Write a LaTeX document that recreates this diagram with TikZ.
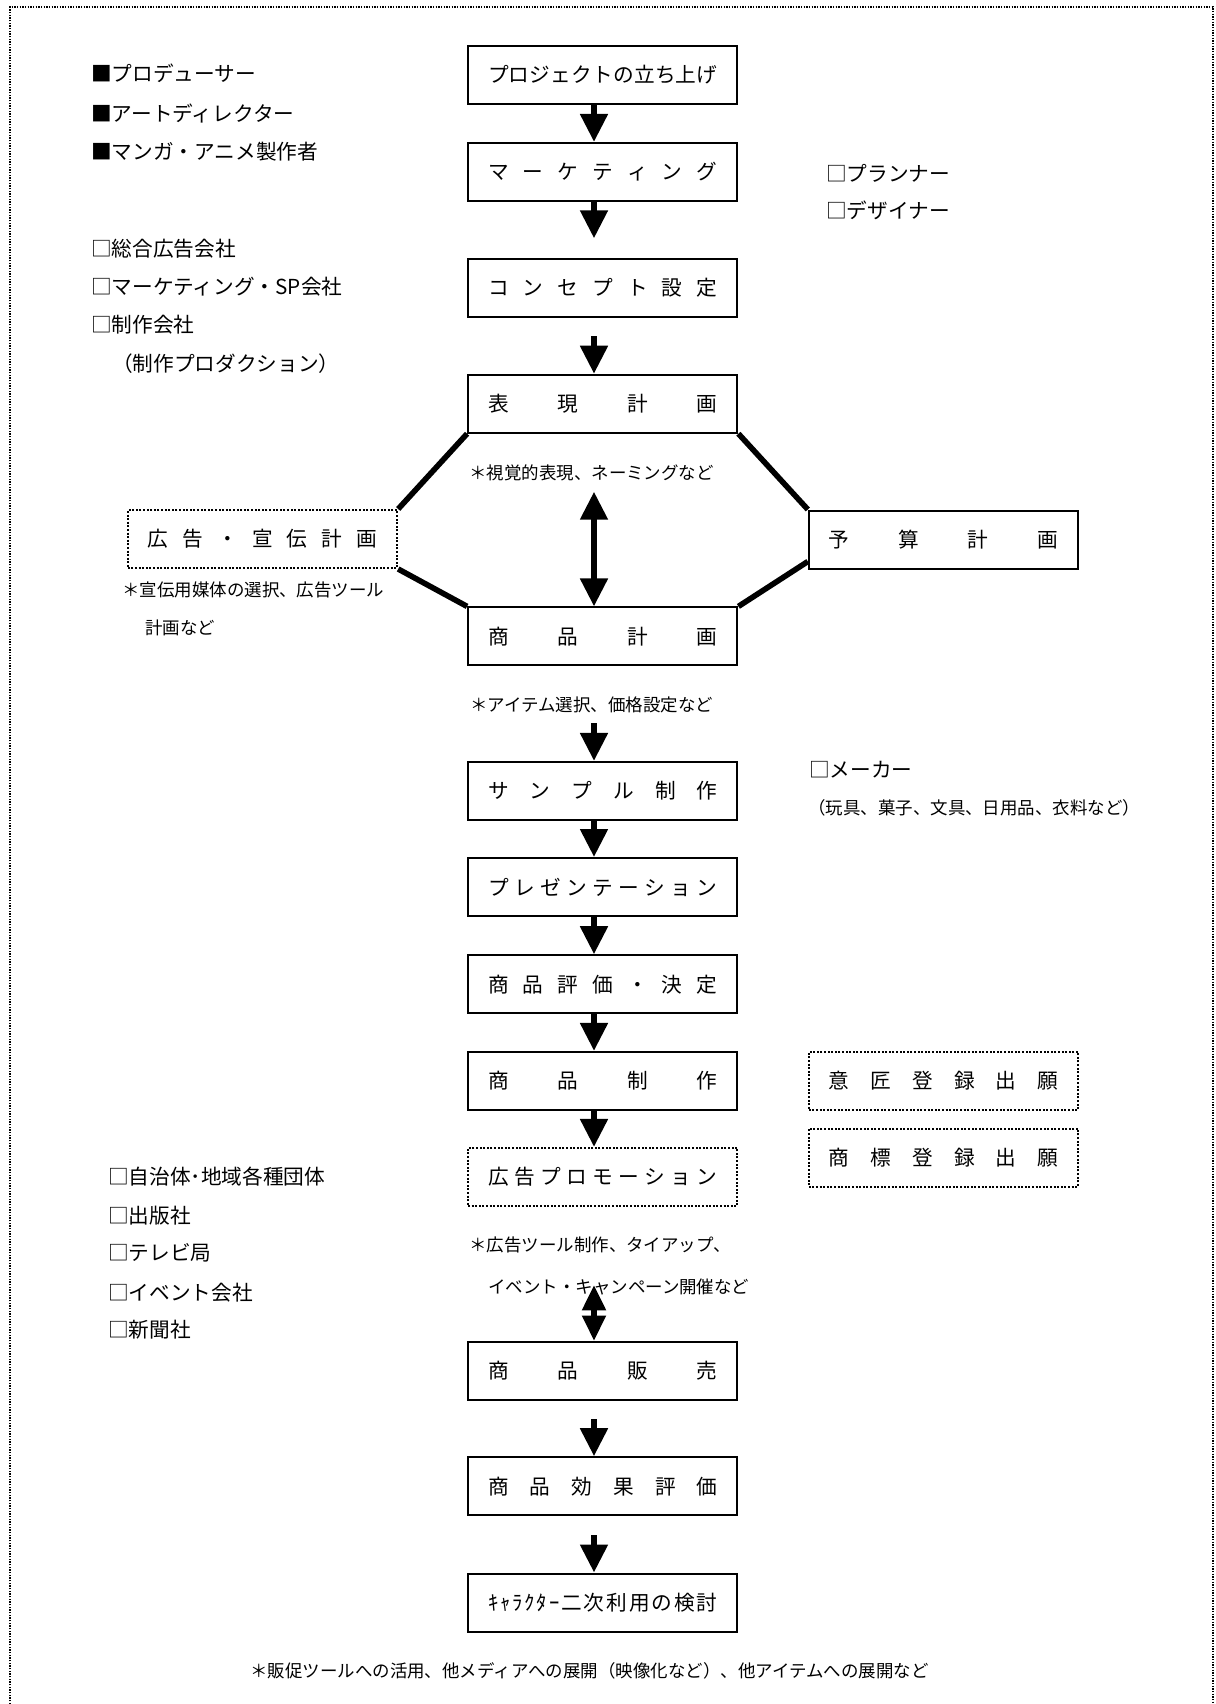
\documentclass[tikz,border=0pt]{standalone}
\usepackage{fontspec}
\setmainfont{Noto Sans CJK JP}
\usetikzlibrary{arrows.meta}

\def\sprdloop#1{\ifx\relax#1\else #1\expandafter\sprdnext\fi}
\def\sprdnext#1{\ifx\relax#1\else\hfill #1\expandafter\sprdnext\fi}
\newcommand\sprd[1]{\makebox[172pt][s]{\sprdloop#1\relax}\hspace{5pt}}
\newcommand\fbx{\fontsize{15.5pt}{18pt}\selectfont}
\newcommand\fnt{\fontsize{13.1pt}{16pt}\selectfont}

\tikzset{
  box/.style={draw, line width=1.5pt, minimum width=202pt, minimum height=43.5pt, inner sep=0pt, font=\fbx},
  dbox/.style={box, dash pattern=on 1.5pt off 1.2pt},
  lbl/.style={anchor=west, inner sep=0pt, font=\fbx},
  note/.style={anchor=west, inner sep=0pt, font=\fnt},
  arr/.style={line width=4.5pt, -{Triangle[width=20pt,length=21pt]}},
  dbl/.style={line width=4.5pt, {Triangle[width=20pt,length=21pt]}-{Triangle[width=20pt,length=21pt]}},
  sdbl/.style={line width=4.5pt, {Triangle[width=17pt,length=19pt]}-{Triangle[width=17pt,length=19pt]}},
  hex/.style={line width=4.2pt},
  border/.style={line width=1pt, dash pattern=on 1pt off 1pt}
}

\begin{document}
\begin{tikzpicture}[x=0.75pt, y=-0.75pt]
\useasboundingbox (0,0) rectangle (1216,1704);
\fill[white] (0,0) rectangle (1216,1704);
\draw[border] (10,1704) -- (10,7) -- (1213,7) -- (1213,1704);

% main flow boxes
\node[box] (proj) at (602.75,75) {\sprd{プロジェクトの立ち上げ}};
\node[box] (mkt) at (602.75,171.9) {\sprd{マーケティング}};
\node[box] (con) at (602.75,287.7) {\sprd{コンセプト設定}};
\node[box] (hyo) at (602.75,403.7) {\sprd{表現計画}};
\node[dbox] (kou) at (262.5,539) {\sprd{広告・宣伝計画}};
\node[box] (yos) at (943.5,539.5) {\sprd{予算計画}};
\node[box] (sho) at (602.75,636.4) {\sprd{商品計画}};
\node[box] (sam) at (602.75,790.9) {\sprd{サンプル制作}};
\node[box] (pre) at (602.75,887) {\sprd{プレゼンテーション}};
\node[box] (eva) at (602.75,984.2) {\sprd{商品評価・決定}};
\node[box] (sei) at (602.75,1080.9) {\sprd{商品制作}};
\node[dbox] (ish) at (943.5,1080.9) {\sprd{意匠登録出願}};
\node[dbox] (sht) at (943.5,1157.5) {\sprd{商標登録出願}};
\node[dbox] (pro) at (602.75,1176.9) {\sprd{広告プロモーション}};
\node[box] (han) at (602.75,1370.9) {\sprd{商品販売}};
\node[box] (kok) at (602.75,1486.2) {\sprd{商品効果評価}};
\node[box] (cha) at (602.75,1602.5) {\sprd{ｷｬﾗｸﾀｰ二次利用の検討}};

% hexagon connectors
\draw[hex] (hyo.south west) -- (kou.north east);
\draw[hex] (kou.south east) -- (sho.north west);
\draw[hex] (hyo.south east) -- (yos.north west);
\draw[hex] ([yshift=6pt]yos.south west) -- (sho.north east);

% arrows
\coordinate (ax) at (594,0);
\coordinate (a2e) at (594,238.3);
\coordinate (a3s) at (594,336);
\coordinate (a4s) at (594,491.7);
\coordinate (a5s) at (594,723.3);
\coordinate (a10s) at (594,1285);
\coordinate (a11s) at (594,1419.3);
\coordinate (a12s) at (594,1535);
\draw[arr] (proj.south -| ax) -- (mkt.north -| ax);
\draw[arr] (mkt.south -| ax) -- (a2e);
\draw[arr] (a3s) -- (hyo.north -| ax);
\draw[dbl] (a4s) -- (sho.north -| ax);
\draw[arr] (a5s) -- (sam.north -| ax);
\draw[arr] (sam.south -| ax) -- (pre.north -| ax);
\draw[arr] (pre.south -| ax) -- (eva.north -| ax);
\draw[arr] (eva.south -| ax) -- (sei.north -| ax);
\draw[arr] (sei.south -| ax) -- (pro.north -| ax);
\draw[sdbl] (a10s) -- (han.north -| ax);
\draw[arr] (a11s) -- (kok.north -| ax);
\draw[arr] (a12s) -- (cha.north -| ax);

% side labels
\node[lbl] (l1) at (91,73.3) {■プロデューサー};
\node[lbl] (l2) at (91,113.3) {■アートディレクター};
\node[lbl] (l3) at (91,151.7) {■マンガ・アニメ製作者};
\node[lbl] (r1) at (826,173.3) {□プランナー};
\node[lbl] (r2) at (826,210) {□デザイナー};
\node[lbl] (l4) at (91,248.3) {□総合広告会社};
\node[lbl] (l5) at (91,286.7) {□マーケティング・SP会社};
\node[lbl] (l6) at (91,325) {□制作会社};
\node[lbl] (l7) at (112,363.3) {（制作プロダクション）};
\node[lbl] (r3) at (809,770) {□メーカー};
\node[note] (r4) at (808,808.3) {（玩具、菓子、文具、日用品、衣料など）};
\node[lbl] (l8) at (108,1176.5) {□自治体･地域各種団体};
\node[lbl] (l9) at (108,1215.4) {□出版社};
\node[lbl] (l10) at (108,1253) {□テレビ局};
\node[lbl] (l11) at (108,1293) {□イベント会社};
\node[lbl] (l12) at (108,1330) {□新聞社};

% notes
\node[note] (n1) at (469,473.3) {＊視覚的表現、ネーミングなど};
\node[note] (n2) at (122,590) {＊宣伝用媒体の選択、広告ツール};
\node[note] (n3) at (145,628.3) {計画など};
\node[note] (n4) at (470,705) {＊アイテム選択、価格設定など};
\node[note] (n5) at (469,1245) {＊広告ツール制作、タイアップ、};
\node[note] (n6) at (488,1286.7) {イベント・キャンペーン開催など};
\node[note] (n7) at (250,1671) {＊販促ツールへの活用、他メディアへの展開（映像化など）、他アイテムへの展開など};
\end{tikzpicture}
\end{document}
